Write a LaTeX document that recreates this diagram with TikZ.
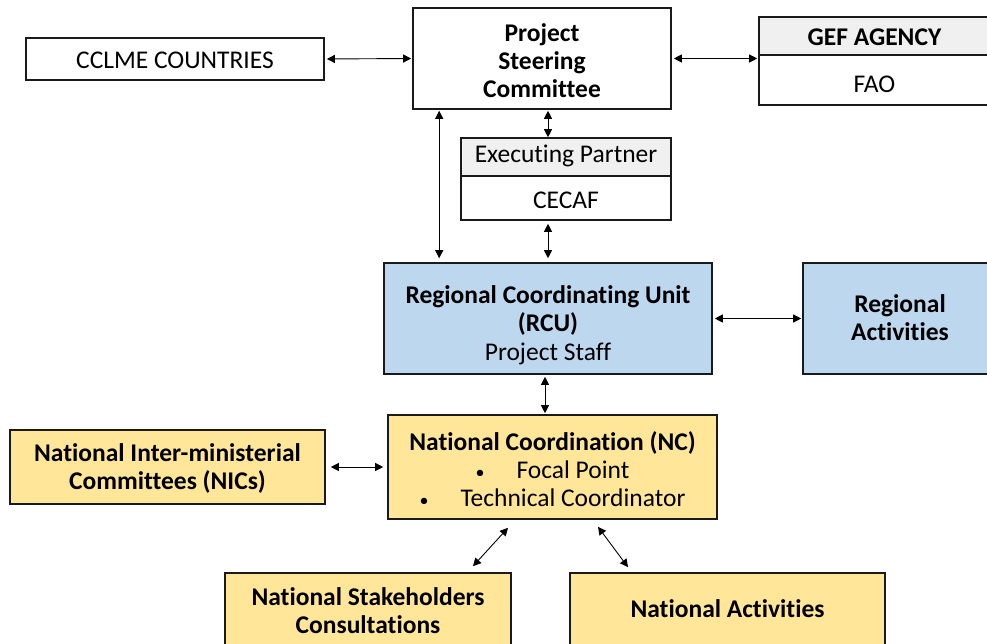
\documentclass[tikz,border=0pt]{standalone}
\usepackage{fontspec}
\setmainfont{Carlito}[Ligatures=NoCommon]
\usetikzlibrary{arrows.meta}
\definecolor{rcublue}{HTML}{BDD7EE}
\definecolor{ncyellow}{HTML}{FFE699}
\definecolor{headgray}{HTML}{F0F0F0}
\definecolor{edge}{HTML}{1A1A1A}

\begin{document}
\begin{tikzpicture}[x=1pt,y=-1pt,
  box/.style={draw=edge, line width=1.6pt, rectangle, inner sep=0pt, align=center,
    font=\fontsize{25.5}{28}\selectfont},
  bbox/.style={box, font=\fontsize{25.5}{28}\selectfont\bfseries},
  txt/.style={inner sep=0pt, align=center, font=\fontsize{25.5}{28}\selectfont},
  link/.style={{Triangle[length=8pt,width=8pt]}-{Triangle[length=8pt,width=8pt]},
    line width=0.9pt, black},
]
\clip (0,0) rectangle (987,644);
\fill[white] (0,0) rectangle (987,644);

% top row
\node[box, minimum width=298pt, minimum height=42pt] (cclme) at (175,59) {};
\node[txt] (cclmet) at (175,60.5) {CCLME COUNTRIES};
\node[box, minimum width=258pt, minimum height=101pt] (psc) at (542,58.5) {};
\node[txt, font=\fontsize{25.5}{28}\selectfont\bfseries] (psct) at (542,61) {Project\\Steering\\Committee};
\node[bbox, fill=headgray, minimum width=231pt, minimum height=38pt] (gefh) at (874.5,36) {};
\node[txt, font=\fontsize{25.5}{28}\selectfont\bfseries] (gefht) at (874.5,37.5) {GEF AGENCY};
\node[box, minimum width=231pt, minimum height=50pt] (gefb) at (874.5,80) {};
\node[txt] (gefbt) at (874.5,84) {FAO};

% executing partner
\node[box, fill=headgray, minimum width=210pt, minimum height=38pt] (eph) at (566,157) {};
\node[txt] (epht) at (566,156) {Executing Partner};
\node[box, minimum width=210pt, minimum height=44pt] (epb) at (566,198) {};
\node[txt] (epbt) at (566,200.5) {CECAF};

% regional level
\node[box, fill=rcublue, minimum width=328pt, minimum height=111pt] (rcu) at (548,318.5) {};
\node[txt] (rcut) at (548,325) {\textbf{Regional Coordinating Unit}\\\textbf{(RCU)}\\[1pt]Project Staff};
\node[box, fill=rcublue, minimum width=194pt, minimum height=111pt] (ra) at (900,318.5) {};
\node[txt, font=\fontsize{25.5}{28}\selectfont\bfseries] (rat) at (900,318) {Regional\\Activities};

% national level
\node[box, fill=ncyellow, minimum width=329pt, minimum height=104pt] (nc) at (552.5,467) {};
\node[txt] (nct) at (552.5,469)
  {\textbf{National Coordination (NC)}\\{\fontsize{18}{18}\selectfont•}\hspace{32pt}Focal Point\\{\fontsize{18}{18}\selectfont•}\hspace{32pt}Technical Coordinator};
\node[box, fill=ncyellow, minimum width=315pt, minimum height=74pt] (nic) at (167.5,467) {};
\node[txt, font=\fontsize{25.5}{28}\selectfont\bfseries] (nict) at (167.5,468) {National Inter-ministerial\\Committees (NICs)};
\node[box, fill=ncyellow, minimum width=286pt, minimum height=75pt] (nsc) at (368,610.5) {};
\node[txt, font=\fontsize{25.5}{28}\selectfont\bfseries] (nsct) at (368,611) {National Stakeholders\\Consultations};
\node[box, fill=ncyellow, minimum width=315pt, minimum height=75pt] (na) at (727.5,610.5) {};
\node[txt, font=\fontsize{25.5}{28}\selectfont\bfseries] (nat) at (727.5,609) {National Activities};

% connectors
\draw[link, shorten <=2pt, shorten >=1pt] (cclme.east) -- (psc.west);
\draw[link, shorten <=2pt, shorten >=1pt] (psc.east) -- (psc.east -| gefb.west);

\coordinate (pscx) at ([shift={(6,0)}]psc.south);
\draw[link, shorten <=1pt, shorten >=0pt] (pscx) -- (pscx |- eph.north);

\coordinate (epx) at ([shift={(-18,0)}]epb.south);
\draw[link, shorten <=3pt, shorten >=4pt] (epx) -- (epx |- rcu.north);

\coordinate (pscl) at ([shift={(27,0)}]psc.south west);
\draw[link, shorten <=1pt, shorten >=4pt] (pscl) -- (pscl |- rcu.north);

\draw[link, shorten <=2pt, shorten >=1pt] (rcu.east) -- (ra.west);

\coordinate (rcux) at ([shift={(-3,0)}]rcu.south);
\draw[link, shorten <=2pt, shorten >=1pt] (rcux) -- (rcux |- nc.north);

\draw[link, shorten <=5pt, shorten >=4pt] (nic.east) -- (nc.west);

\draw[link] ([shift={(-44.5,8)}]nc.south) -- ([shift={(105,-6)}]nsc.north);
\draw[link] ([shift={(45.5,7)}]nc.south) -- ([shift={(-99.5,-5)}]na.north);
\end{tikzpicture}
\end{document}
